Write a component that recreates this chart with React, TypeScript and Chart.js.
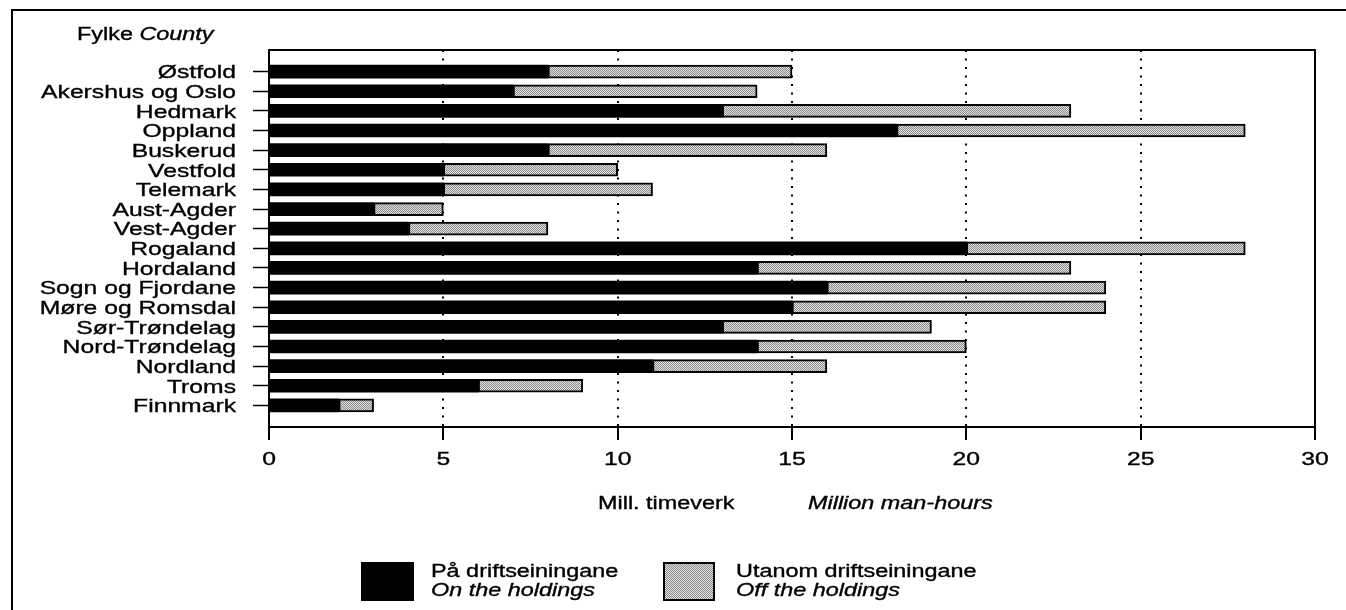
import React, { useEffect, useRef } from "react";
import { Chart, registerables } from "chart.js";

Chart.register(...registerables);

// ---- data ----
const counties = [
  "Østfold",
  "Akershus og Oslo",
  "Hedmark",
  "Oppland",
  "Buskerud",
  "Vestfold",
  "Telemark",
  "Aust-Agder",
  "Vest-Agder",
  "Rogaland",
  "Hordaland",
  "Sogn og Fjordane",
  "Møre og Romsdal",
  "Sør-Trøndelag",
  "Nord-Trøndelag",
  "Nordland",
  "Troms",
  "Finnmark",
];
const onHoldings = [8, 7, 13, 18, 8, 5, 5, 3, 4, 20, 14, 16, 15, 13, 14, 11, 6, 2];
const offHoldings = [7, 7, 10, 10, 8, 5, 6, 2, 4, 8, 9, 8, 9, 6, 6, 5, 3, 1];
const xTickValues = [0, 5, 10, 15, 20, 25, 30];
const seriesNorwegian = ["På driftseiningane", "Utanom driftseiningane"];
const seriesEnglish = ["On the holdings", "Off the holdings"];
const titleNorwegian = "Fylke";
const titleEnglish = "County";
const axisNorwegian = "Mill. timeverk";
const axisEnglish = "Million man-hours";

const FONT = '"Liberation Sans", Arial, Helvetica, sans-serif';
const SX = 1.3;

function drawText(
  ctx: CanvasRenderingContext2D,
  s: string,
  x: number,
  y: number,
  align: CanvasTextAlign,
  size: number,
  italic = false
) {
  ctx.save();
  ctx.font = `${italic ? "italic " : ""}${size}px ${FONT}`;
  ctx.fillStyle = "#000";
  ctx.strokeStyle = "#000";
  ctx.lineWidth = 0.35;
  ctx.textBaseline = "alphabetic";
  ctx.textAlign = align;
  ctx.translate(x, y);
  ctx.scale(SX, 1);
  ctx.fillText(s, 0, 0);
  ctx.strokeText(s, 0, 0);
  ctx.restore();
}

function textWidth(ctx: CanvasRenderingContext2D, s: string, size: number, italic = false) {
  ctx.save();
  ctx.font = `${italic ? "italic " : ""}${size}px ${FONT}`;
  const w = ctx.measureText(s).width * SX;
  ctx.restore();
  return w;
}

function makePattern(ctx: CanvasRenderingContext2D) {
  const c = document.createElement("canvas");
  c.width = 2;
  c.height = 2;
  const p = c.getContext("2d")!;
  p.fillStyle = "#e2e2e2";
  p.fillRect(0, 0, 2, 2);
  p.fillStyle = "#8a8a8a";
  p.fillRect(0, 0, 1, 1);
  p.fillRect(1, 1, 1, 1);
  return ctx.createPattern(c, "repeat")!;
}

export default function App() {
  const ref = useRef<HTMLCanvasElement | null>(null);

  useEffect(() => {
    document.body.style.margin = "0";
    const canvas = ref.current!;
    const ctx0 = canvas.getContext("2d")!;
    const pattern = makePattern(ctx0);

    const decor = {
      id: "decor",
      afterDraw(chart: any) {
        const ctx: CanvasRenderingContext2D = chart.ctx;
        const a = chart.chartArea;
        const xs = chart.scales.x;
        const ys = chart.scales.y;

        // outer frame (top and left)
        ctx.save();
        ctx.strokeStyle = "#000";
        ctx.lineWidth = 2;
        ctx.beginPath();
        ctx.moveTo(12, 610);
        ctx.lineTo(12, 10);
        ctx.lineTo(1346, 10);
        ctx.stroke();
        // plot box
        ctx.strokeRect(a.left, a.top, a.right - a.left, a.bottom - a.top);
        ctx.restore();

        // title
        drawText(ctx, titleNorwegian, 77, 40, "left", 18);
        const w = textWidth(ctx, titleNorwegian + " ", 18);
        drawText(ctx, titleEnglish, 77 + w, 40, "left", 18, true);

        // y labels
        counties.forEach((c, i) => {
          const y = ys.getPixelForValue(i);
          drawText(ctx, c, a.left - 33, y + 6.8, "right", 19);
        });

        // x labels
        xTickValues.forEach((v) => {
          drawText(ctx, String(v), xs.getPixelForValue(v), a.bottom + 38, "center", 19);
        });

        // x title
        drawText(ctx, axisNorwegian, 598, 509, "left", 18);
        drawText(ctx, axisEnglish, 808, 509, "left", 18, true);

        // legend
        const boxes = [
          { x: 361, y: 562, w: 53, h: 39, tx: 431 },
          { x: 663, y: 562, w: 52, h: 39, tx: 736 },
        ];
        chart.data.datasets.forEach((ds: any, i: number) => {
          const b = boxes[i];
          ctx.save();
          ctx.fillStyle = ds.backgroundColor;
          ctx.fillRect(b.x, b.y, b.w, b.h);
          if (ds.borderWidth) {
            ctx.strokeStyle = "#000";
            ctx.lineWidth = 2;
            ctx.strokeRect(b.x + 1, b.y + 1, b.w - 2, b.h - 2);
          }
          ctx.restore();
          drawText(ctx, seriesNorwegian[i], b.tx, 577, "left", 18);
          drawText(ctx, seriesEnglish[i], b.tx, 596, "left", 18, true);
        });
      },
    };

    const chart = new Chart(canvas, {
      type: "bar",
      data: {
        datasets: [
          {
            label: seriesNorwegian[0],
            data: onHoldings.map((v, i) => ({ x: v, y: i })),
            backgroundColor: "#000",
            borderWidth: 0,
            barThickness: 13,
          },
          {
            label: seriesNorwegian[1],
            data: offHoldings.map((v, i) => ({ x: v, y: i })),
            backgroundColor: pattern as any,
            borderColor: "#000",
            borderWidth: 2,
            borderSkipped: false,
            barThickness: 13,
          },
        ],
      },
      options: {
        indexAxis: "y",
        animation: false,
        responsive: false,
        events: [],
        layout: { padding: { top: 50, left: 0, right: 31, bottom: 0 } },
        plugins: {
          legend: { display: false },
          tooltip: { enabled: false },
          title: { display: false },
        },
        scales: {
          x: {
            type: "linear",
            stacked: true,
            min: 0,
            max: 30,
            offset: false,
            ticks: { stepSize: 5, display: false },
            border: { display: false, dash: [2, 6.5] },
            grid: {
              offset: false,
              color: (c: any) =>
                c.tick && (c.tick.value === 0 || c.tick.value === 30) ? "rgba(0,0,0,0)" : "#000",
              lineWidth: 2,
              tickColor: "#000",
              tickWidth: 2,
              tickLength: 13,
              tickBorderDash: [],
            } as any,
            afterFit: (s: any) => {
              s.height = 183;
            },
          },
          y: {
            type: "linear",
            stacked: true,
            reverse: true,
            offset: false,
            min: -1.1,
            max: 18.1,
            ticks: { display: false },
            border: { display: false },
            grid: {
              offset: false,
              drawOnChartArea: false,
              tickColor: "#000",
              tickWidth: 1.5,
              tickLength: 16,
            } as any,
            afterBuildTicks: (s: any) => {
              s.ticks = counties.map((_, i) => ({ value: i }));
            },
            afterFit: (s: any) => {
              s.width = 269;
            },
          },
        },
      } as any,
      plugins: [decor],
    });

    return () => chart.destroy();
  }, []);

  return (
    <div style={{ position: "absolute", left: 0, top: 0, width: 1346, height: 610, background: "#fff" }}>
      <canvas ref={ref} width={1346} height={610} style={{ display: "block" }} />
    </div>
  );
}
